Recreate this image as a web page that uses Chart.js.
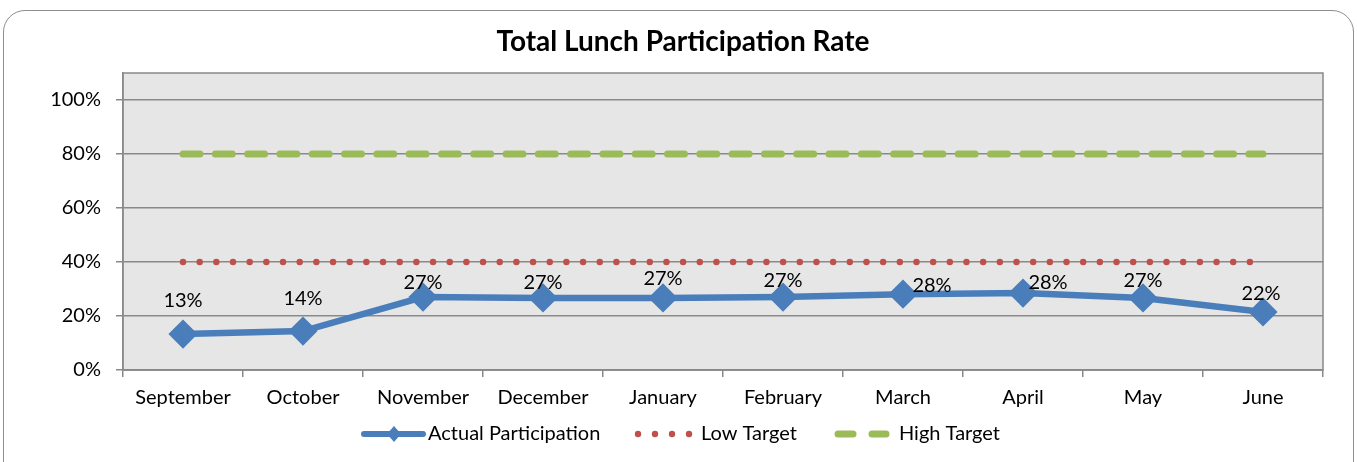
<!DOCTYPE html>
<html>
<head>
<meta charset="utf-8">
<script src="https://cdn.jsdelivr.net/npm/chart.js@4"></script>
<style>
  html, body { margin: 0; padding: 0; background: #fff; overflow: hidden; }
  #wrap { position: relative; width: 1357px; height: 462px; }
  #frame {
    position: absolute; left: 3px; top: 10px; width: 1351px; height: 480px;
    border: 1.5px solid #8e8e8e; border-radius: 22px; box-sizing: border-box;
  }
  canvas { position: absolute; left: 0; top: 0; }
</style>
</head>
<body>
<div id="wrap">
  <div id="frame"></div>
  <canvas id="chart" width="1357" height="462"></canvas>
</div>
<script>
// DATA
const months = ["September", "October", "November", "December", "January",
                "February", "March", "April", "May", "June"];
const actual = [0.133, 0.144, 0.27, 0.267, 0.267, 0.27, 0.281, 0.285, 0.267, 0.215];
const actualLabels = ["13%", "14%", "27%", "27%", "27%", "27%", "28%", "28%", "27%", "22%"];
const lowTarget = [0.4, 0.4, 0.4, 0.4, 0.4, 0.4, 0.4, 0.4, 0.4, 0.4];
const highTarget = [0.8, 0.8, 0.8, 0.8, 0.8, 0.8, 0.8, 0.8, 0.8, 0.8];
const yTicks = [0, 0.2, 0.4, 0.6, 0.8, 1.0];

// label nudges (pixels) as placed in the original
const labelDx = [0, 0, 0, 0, 0, 0, 29, 25, 0, -2];
const labelDy = [-34, -33, -15, -15, -19, -17, -9, -11, -17, -18];

const FONT = "Lato, 'Liberation Sans', sans-serif";
const BLUE = "#4a7ebb", RED = "#c0504d", GREEN = "#9bbb59", GRID = "#898989";

// PLOT AREA BACKGROUND + BORDER
const plotBg = {
  id: "plotBg",
  beforeDraw(chart) {
    const { ctx, chartArea: a } = chart;
    ctx.save();
    ctx.fillStyle = "#e6e6e6";
    ctx.fillRect(a.left, a.top, a.right - a.left, a.bottom - a.top);
    ctx.restore();
  },
  afterDraw(chart) {
    const { ctx, chartArea: a } = chart;
    ctx.save();
    ctx.strokeStyle = GRID;
    ctx.lineWidth = 1.5;
    ctx.strokeRect(a.left, a.top, a.right - a.left, a.bottom - a.top);
    ctx.restore();
  }
};

// TITLE, DATA LABELS, LEGEND
const extras = {
  id: "extras",
  afterDatasetsDraw(chart) {
    const ctx = chart.ctx;
    ctx.save();
    ctx.fillStyle = "#000";
    ctx.font = "bold 28px " + FONT;
    ctx.textAlign = "center";
    ctx.textBaseline = "middle";
    ctx.fillText("Total Lunch Participation Rate", 683, 42);

    // data labels
    ctx.font = "20px " + FONT;
    const meta = chart.getDatasetMeta(0);
    meta.data.forEach((pt, i) => {
      ctx.fillText(actualLabels[i], pt.x + labelDx[i], pt.y + labelDy[i]);
    });

    // legend
    const ly = 434;
    ctx.textAlign = "left";
    // actual
    ctx.strokeStyle = BLUE; ctx.lineWidth = 6; ctx.lineCap = "round";
    ctx.beginPath(); ctx.moveTo(364, ly); ctx.lineTo(423, ly); ctx.stroke();
    ctx.fillStyle = BLUE;
    ctx.beginPath();
    ctx.moveTo(394, ly - 8); ctx.lineTo(401, ly); ctx.lineTo(394, ly + 8); ctx.lineTo(387, ly);
    ctx.closePath(); ctx.fill();
    ctx.fillStyle = "#000";
    ctx.fillText(chart.data.datasets[0].label, 428, ly);
    // low
    ctx.fillStyle = RED;
    [638, 655, 672, 689].forEach(x => {
      ctx.beginPath(); ctx.arc(x, ly, 3.2, 0, Math.PI * 2); ctx.fill();
    });
    ctx.fillStyle = "#000";
    ctx.fillText(chart.data.datasets[1].label, 701, ly);
    // high
    ctx.strokeStyle = GREEN; ctx.lineWidth = 7; ctx.lineCap = "round";
    ctx.beginPath(); ctx.moveTo(838, ly); ctx.lineTo(853, ly); ctx.stroke();
    ctx.beginPath(); ctx.moveTo(872, ly); ctx.lineTo(886, ly); ctx.stroke();
    ctx.fillStyle = "#000";
    ctx.fillText(chart.data.datasets[2].label, 899, ly);
    ctx.restore();
  }
};

new Chart(document.getElementById("chart"), {
  type: "line",
  data: {
    labels: months,
    datasets: [
      {
        label: "Actual Participation",
        data: actual,
        borderColor: BLUE,
        backgroundColor: BLUE,
        borderWidth: 6.5,
        pointStyle: "rectRot",
        pointRadius: 10,
        pointHoverRadius: 10,
        tension: 0,
        order: 0
      },
      {
        label: "Low Target",
        data: lowTarget,
        borderColor: RED,
        borderWidth: 6.5,
        borderDash: [0, 16.67],
        borderCapStyle: "round",
        pointRadius: 0,
        order: 1
      },
      {
        label: "High Target",
        data: highTarget,
        borderColor: GREEN,
        borderWidth: 7,
        borderDash: [17, 15.3],
        borderCapStyle: "round",
        pointRadius: 0,
        order: 2
      }
    ]
  },
  options: {
    responsive: false,
    animation: false,
    layout: { padding: { top: 73, right: 34, bottom: 52, left: 0 } },
    plugins: {
      legend: { display: false },
      title: { display: false },
      tooltip: { enabled: false }
    },
    scales: {
      x: {
        offset: true,
        grid: {
          offset: true,
          drawOnChartArea: false,
          color: GRID,
          lineWidth: 1.5,
          tickLength: 7
        },
        border: { color: GRID, width: 1.5 },
        ticks: {
          color: "#000",
          font: { family: FONT, size: 20 },
          padding: 9,
          maxRotation: 0
        },
        afterFit(scale) { scale.height = 40; }
      },
      y: {
        min: 0,
        max: 1.1,
        afterBuildTicks(scale) {
          scale.ticks = yTicks.map(v => ({ value: v }));
        },
        grid: { color: GRID, lineWidth: 1.5, tickLength: 7 },
        border: { color: GRID, width: 1.5 },
        ticks: {
          color: "#000",
          font: { family: FONT, size: 20 },
          padding: 15,
          callback: v => Math.round(v * 100) + "%"
        },
        afterFit(scale) { scale.width = 123; }
      }
    }
  },
  plugins: [plotBg, extras]
});
</script>
</body>
</html>
